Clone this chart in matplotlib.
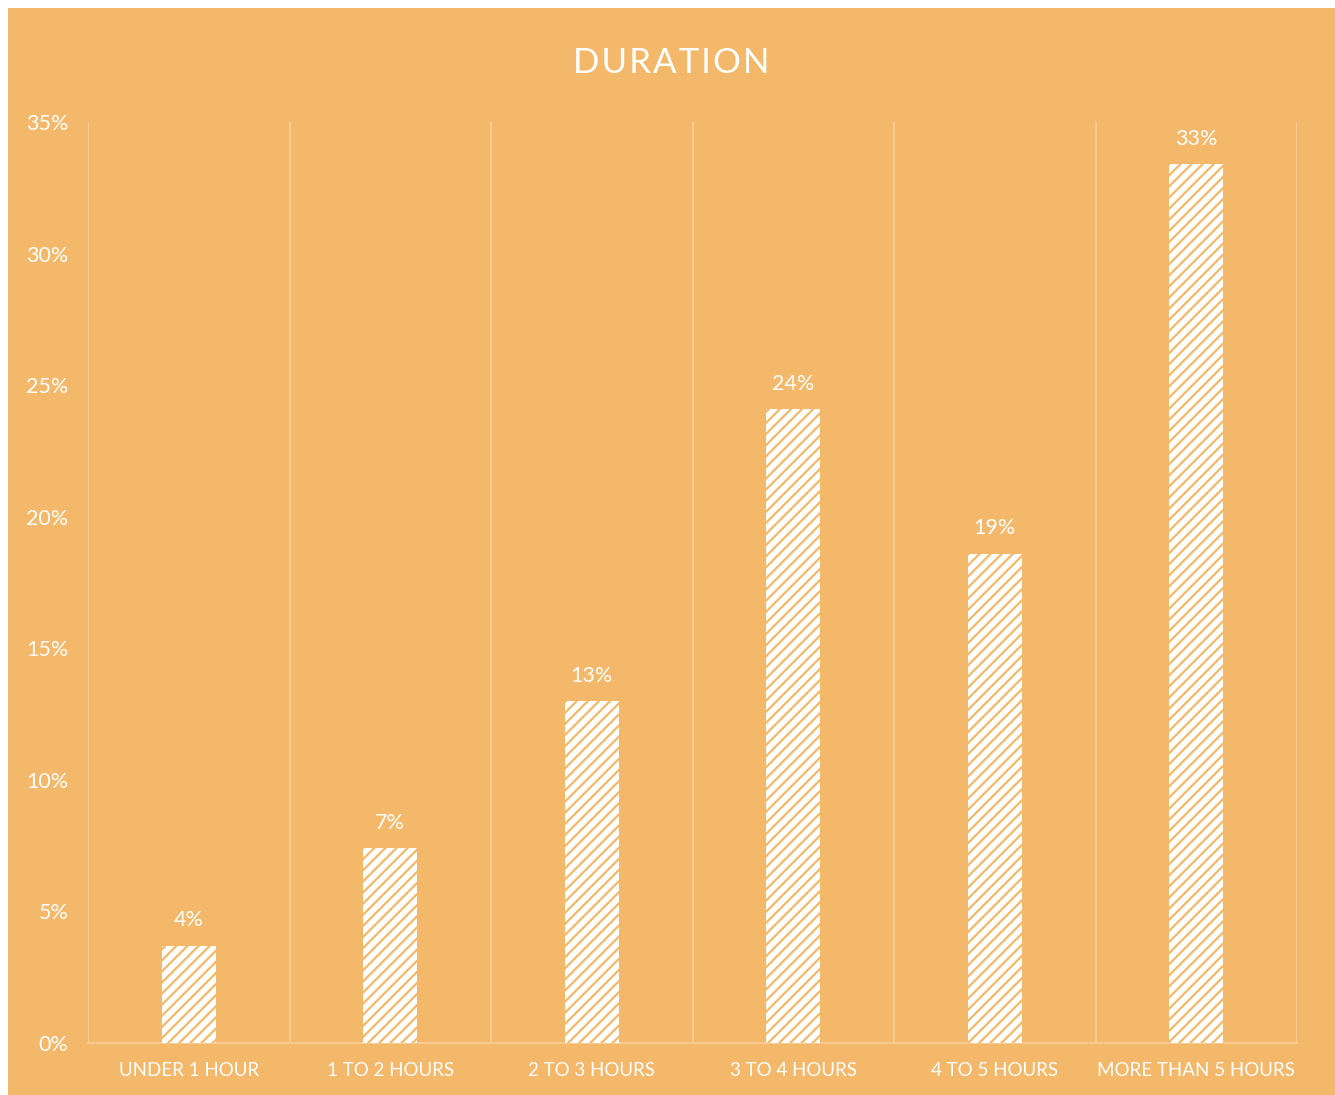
import matplotlib.pyplot as plt
from matplotlib.patches import Rectangle
from matplotlib.ticker import FuncFormatter, MultipleLocator

plt.rcParams['font.family'] = ['Lato', 'DejaVu Sans']
plt.rcParams['hatch.linewidth'] = 1.6

ORANGE = '#F3B86A'
GRID = '#F7CD96'

categories = ['UNDER 1 HOUR', '1 TO 2 HOURS', '2 TO 3 HOURS',
              '3 TO 4 HOURS', '4 TO 5 HOURS', 'MORE THAN 5 HOURS']
shares = [3.7, 7.4, 13.0, 24.1, 18.6, 33.4]

W, H = 1335, 1095
fig = plt.figure(figsize=(W / 100, H / 100), dpi=100)
fig.patch.set_facecolor('white')

# orange card behind everything
card = Rectangle((8 / W, 0), 1 - 8 / W, 1 - 8 / H,
                 transform=fig.transFigure, facecolor=ORANGE,
                 edgecolor='none', zorder=-10)
fig.add_artist(card)

ax = fig.add_axes([88 / W, 1 - 1043 / H, (1297 - 88) / W, (1043 - 122) / H])
ax.set_facecolor('none')

x = list(range(len(categories)))
bars = ax.bar(x, shares, width=0.27, color='white', edgecolor=ORANGE,
              linewidth=0, hatch='///', zorder=3)

for b, v in zip(bars, shares):
    ax.annotate('%d%%' % round(v), (b.get_x() + b.get_width() / 2, v),
                xytext=(0, 11), textcoords='offset points', ha='center',
                va='bottom', color='white', fontsize=15.5)

ax.set_xlim(-0.5, len(categories) - 0.5)
ax.set_ylim(0, 35)
ax.yaxis.set_major_locator(MultipleLocator(5))
ax.yaxis.set_major_formatter(FuncFormatter(lambda v, p: '%d%%' % v))

# separators between the categories
for i in range(len(categories) + 1):
    ax.axvline(i - 0.5, color=GRID, linewidth=1.3, zorder=1)

for s in ['top', 'right', 'left']:
    ax.spines[s].set_visible(False)
ax.spines['bottom'].set_color(GRID)
ax.spines['bottom'].set_linewidth(1.3)

ax.set_xticks(x)
ax.set_xticklabels(categories)
ax.tick_params(axis='x', length=0, pad=14, labelsize=13.5, colors='white')
ax.tick_params(axis='y', length=0, pad=14, labelsize=15.5, colors='white')

fig.text(671 / W, 1 - 63 / H, '\u200a'.join('DURATION'),
         ha='center', va='center', color='white', fontsize=25)

fig.savefig('out.png', dpi=100, facecolor=fig.get_facecolor())
